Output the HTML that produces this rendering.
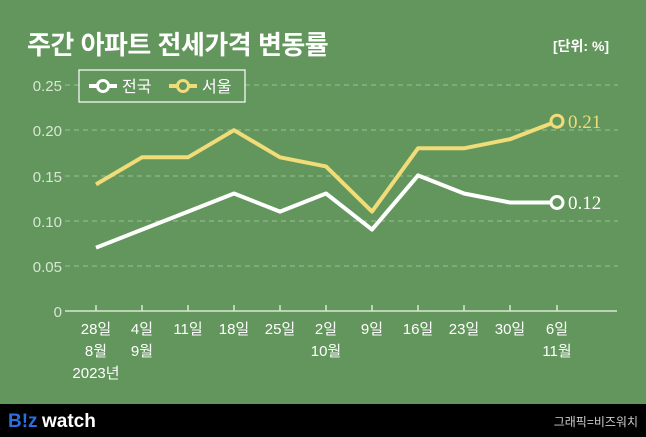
<!DOCTYPE html>
<html><head><meta charset="utf-8"><style>
html,body{margin:0;padding:0;}
body{width:646px;height:437px;background:#62965c;position:relative;overflow:hidden;font-family:"Liberation Sans","Noto Sans CJK KR",sans-serif;}
</style></head><body>
<svg width="646" height="437" style="position:absolute;left:0;top:0" font-family="Liberation Sans, Noto Sans CJK KR, sans-serif">
<rect x="0" y="0" width="646" height="437" fill="#62965c"/>
<text x="27" y="54" font-size="26" font-weight="bold" fill="#fff" letter-spacing="-0.5">주간 아파트 전세가격 변동률</text>
<text x="553" y="51" font-size="14" font-weight="bold" fill="#fff">[단위: %]</text>
<g stroke="#9cc095" stroke-width="1" stroke-dasharray="5,4">
<line x1="65" y1="85" x2="618" y2="85"/><line x1="65" y1="130" x2="618" y2="130"/>
<line x1="65" y1="176" x2="618" y2="176"/><line x1="65" y1="221" x2="618" y2="221"/>
<line x1="65" y1="266" x2="618" y2="266"/>
</g>
<line x1="65" y1="311" x2="617" y2="311" stroke="#d8e6d4" stroke-width="1.5"/>
<g stroke="#d8e6d4" stroke-width="1.5">
<line x1="96" y1="305" x2="96" y2="311"/><line x1="142" y1="305" x2="142" y2="311"/><line x1="188" y1="305" x2="188" y2="311"/><line x1="234" y1="305" x2="234" y2="311"/><line x1="280" y1="305" x2="280" y2="311"/><line x1="326" y1="305" x2="326" y2="311"/><line x1="372" y1="305" x2="372" y2="311"/><line x1="418" y1="305" x2="418" y2="311"/><line x1="464" y1="305" x2="464" y2="311"/><line x1="510" y1="305" x2="510" y2="311"/><line x1="557" y1="305" x2="557" y2="311"/>
</g>
<g font-size="15" fill="#d8e6d4" text-anchor="end">
<text x="62" y="91">0.25</text><text x="62" y="136">0.20</text><text x="62" y="182">0.15</text><text x="62" y="227">0.10</text><text x="62" y="272">0.05</text><text x="62" y="317">0</text>
</g>
<g font-size="15" fill="#fff" text-anchor="middle">
<text x="96" y="334">28일</text><text x="142" y="334">4일</text><text x="188" y="334">11일</text><text x="234" y="334">18일</text><text x="280" y="334">25일</text><text x="326" y="334">2일</text><text x="372" y="334">9일</text><text x="418" y="334">16일</text><text x="464" y="334">23일</text><text x="510" y="334">30일</text><text x="557" y="334">6일</text>
<text x="96" y="356">8월</text><text x="142" y="356">9월</text><text x="326" y="356">10월</text><text x="557" y="356">11월</text>
<text x="96" y="378">2023년</text>
</g>
<polyline fill="none" stroke="#f0dc78" stroke-width="4" stroke-linejoin="round" points="96,184.4 142,157.3 188,157.3 234,130.2 280,157.3 326,166.4 372,211.6 418,148.3 464,148.3 510,139.2 557,121.2"/>
<polyline fill="none" stroke="#fff" stroke-width="4" stroke-linejoin="round" points="96,247.7 142,229.6 188,211.6 234,193.5 280,211.6 326,193.5 372,229.6 418,175.4 464,193.5 510,202.5 557,202.5"/>
<circle cx="557" cy="121.2" r="6" fill="#62965c" stroke="#f0dc78" stroke-width="3"/>
<circle cx="557" cy="202.5" r="6" fill="#62965c" stroke="#fff" stroke-width="3"/>
<text x="568" y="128" font-size="19" fill="#f0dc78" font-family="Liberation Serif, serif">0.21</text>
<text x="568" y="209" font-size="19" fill="#fff" font-family="Liberation Serif, serif">0.12</text>
<rect x="79" y="70" width="166" height="32" fill="#62965c" stroke="#fff" stroke-width="1.2"/>
<line x1="89" y1="86" x2="117" y2="86" stroke="#fff" stroke-width="4"/>
<circle cx="103" cy="86" r="5.5" fill="#62965c" stroke="#fff" stroke-width="3"/>
<text x="122" y="92" font-size="16" fill="#fff">전국</text>
<line x1="169" y1="86" x2="197" y2="86" stroke="#f0dc78" stroke-width="4"/>
<circle cx="183" cy="86" r="5.5" fill="#62965c" stroke="#f0dc78" stroke-width="3"/>
<text x="202" y="92" font-size="16" fill="#fff">서울</text>
<rect x="0" y="404" width="646" height="33" fill="#000"/>
<text x="8" y="427" font-size="19" font-weight="bold" fill="#2a6ee0">B!z</text>
<text x="42" y="427" font-size="19" font-weight="bold" fill="#fff">watch</text>
<text x="638" y="426" font-size="12" fill="#ccc" text-anchor="end">그래픽=비즈워치</text>
</svg>
</body></html>
